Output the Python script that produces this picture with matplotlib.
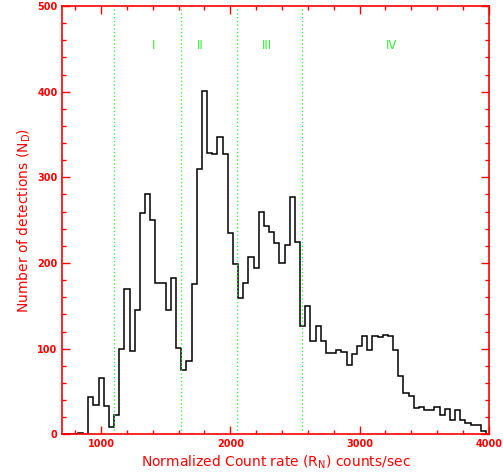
import numpy as np
import matplotlib
matplotlib.use("Agg")
import matplotlib.pyplot as plt
from matplotlib.ticker import MultipleLocator

# histogram of normalized count rate, 40 counts/sec bins
bin_width = 40
bin_start = 700
counts = [
    0, 0, 0, 1, 0,                                   # 700 - 900
    43, 34, 66, 33, 8, 23, 100, 170, 97, 145,        # 900 - 1300
    258, 280, 250, 177, 177, 145, 182, 101, 75, 85,  # 1300 - 1700
    175, 310, 401, 328, 327, 347, 327, 235, 199, 159,  # 1700 - 2100
    177, 207, 194, 260, 243, 236, 223, 200, 221, 277,  # 2100 - 2500
    225, 126, 150, 109, 127, 109, 95, 95, 99, 96,      # 2500 - 2900
    81, 94, 103, 115, 99, 115, 114, 116, 115, 98,      # 2900 - 3300
    68, 48, 45, 31, 32, 28, 28, 32, 23, 30,            # 3300 - 3700
    17, 28, 17, 13, 11, 11, 4, 0,                      # 3700 - 4020
]
edges = bin_start + bin_width * np.arange(len(counts) + 1)

# region boundaries and labels
boundaries = [1100, 1620, 2050, 2555]
region_labels = ["I", "II", "III", "IV"]
label_x = [1410, 1770, 2280, 3250]

red = "#ff0000"
green = "#33ee33"

fig = plt.figure(figsize=(5.03, 4.73), dpi=100)
ax = fig.add_axes([0.1239, 0.0818, 0.8477, 0.9055])

ax.stairs(counts, edges, color="black", linewidth=1.1)

for b in boundaries:
    ax.axvline(b, color=green, linestyle=(0, (1, 2)), linewidth=0.9)
for x, t in zip(label_x, region_labels):
    ax.text(x, 454, t, color=green, ha="center", va="center", fontsize=8.5)

ax.set_xlim(700, 4000)
ax.set_ylim(0, 500)
ax.xaxis.set_major_locator(MultipleLocator(1000))
ax.xaxis.set_minor_locator(MultipleLocator(200))
ax.yaxis.set_major_locator(MultipleLocator(100))
ax.yaxis.set_minor_locator(MultipleLocator(20))

for s in ax.spines.values():
    s.set_color(red)
    s.set_linewidth(1.2)
ax.tick_params(which="both", direction="in", top=True, right=True, colors=red,
               labelcolor=red)
ax.tick_params(which="major", length=6, width=1)
ax.tick_params(which="minor", length=3, width=1)
for lab in ax.get_xticklabels() + ax.get_yticklabels():
    lab.set_fontweight("bold")
    lab.set_fontsize(7)

ax.set_xlabel("Normalized Count rate (R$_\\mathregular{N}$) counts/sec",
              color=red, fontsize=10, labelpad=3)
ax.set_ylabel("Number of detections (N$_\\mathregular{D}$)",
              color=red, fontsize=10, labelpad=3)

fig.savefig("out.png", dpi=100)
